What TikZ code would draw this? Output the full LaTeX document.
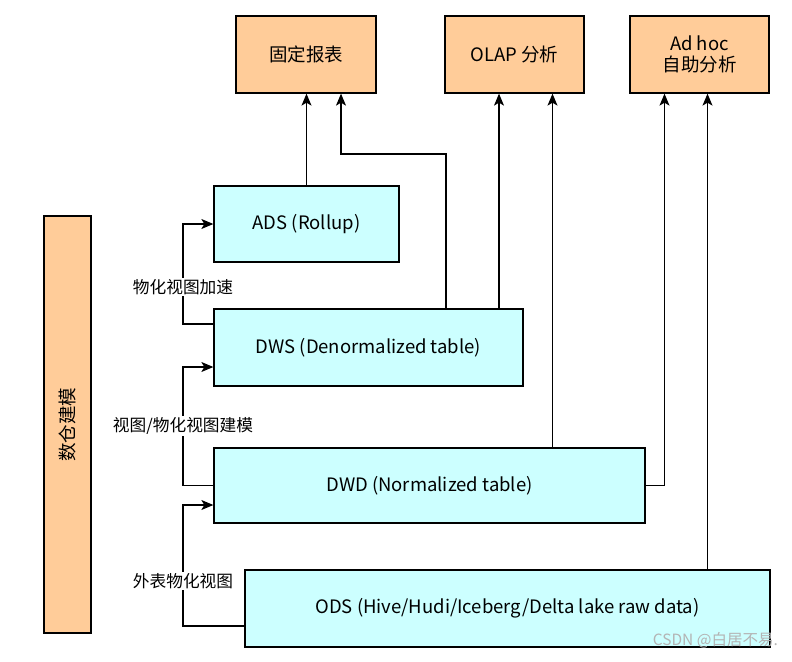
\documentclass[tikz,border=0pt]{standalone}
\usepackage{fontspec}
\setmainfont{Noto Sans CJK SC}
\usetikzlibrary{arrows.meta}
\definecolor{orangefill}{HTML}{FFCC99}
\definecolor{cyanfill}{HTML}{CCFFFF}
\definecolor{wmgray}{HTML}{B4B4B4}
\begin{document}
\begin{tikzpicture}[x=1pt,y=-1pt,
  box/.style={draw=black,line width=1.3pt,inner sep=0pt,align=center,font=\fontsize{18.5}{22}\selectfont},
  appbox/.style={box,fill=orangefill,minimum height=77pt},
  layerbox/.style={box,fill=cyanfill},
  conn/.style={draw=black,line width=1.2pt},
  arr/.style={conn,-{Stealth[length=12pt,width=10pt,inset=3pt]}},
  lbl/.style={fill=white,inner sep=1pt,font=\fontsize{16.7}{20}\selectfont}]
\useasboundingbox (0,0) rectangle (792,661);
\fill[white] (0,0) rectangle (792,661);
% application boxes
\node[appbox,minimum width=140pt] (rep) at (306,54.5) {固定报表};
\node[appbox,minimum width=139pt] (olap) at (514.5,54.5) {OLAP 分析};
\node[appbox,minimum width=139pt] (adhoc) at (699.5,54.5) {Ad hoc\\[-1pt]自助分析};
% layers
\node[layerbox,minimum width=185pt,minimum height=76pt] (ads) at (306.5,224) {ADS (Rollup)};
\node[layerbox,minimum width=309pt,minimum height=77pt] (dws) at (368.5,347.5) {DWS (Denormalized table)};
\node[layerbox,minimum width=431pt,minimum height=75pt] (dwd) at (429.5,485.5) {DWD (Normalized table)};
\node[layerbox,minimum width=525pt,minimum height=77pt] (ods) at (507.5,608.5) {ODS (Hive/Hudi/Iceberg/Delta lake raw data)};
% side box
\node[box,fill=orangefill,minimum width=47pt,minimum height=417pt] (side) at (67.5,424.5) {};
\node[rotate=90,font=\fontsize{18.5}{22}\selectfont] (sidetxt) at (side.center) {数仓建模};
% upward connectors
\draw[arr] (ads.north) -- (ads.north |- rep.south);
\draw[arr] (446,0 |- dws.north) |- (341,154) -- (341,0 |- rep.south);
\draw[arr] (499,0 |- dws.north) -- (499,0 |- olap.south);
\draw[arr] (552.5,0 |- dwd.north) -- (552.5,0 |- olap.south);
\draw[arr] (dwd.east) -| (664.5,0 |- adhoc.south);
\draw[arr] (707.5,0 |- ods.north) -- (707.5,0 |- adhoc.south);
% left-side connectors
\draw[arr] (dws.west |- 0,324) -- (183,324) |- (ads.west);
\draw[arr] (dwd.west) -- (183,485.5) |- (dws.west |- 0,367);
\draw[arr] (ods.west |- 0,626) -- (183,626) |- (dwd.west |- 0,505);
% labels
\node[lbl] (l1) at (183,287) {物化视图加速};
\node[lbl] (l2) at (183,426) {视图/物化视图建模};
\node[lbl] (l3) at (183,581) {外表物化视图};
% watermark
\node[text=wmgray,font=\fontsize{15.5}{17}\selectfont,inner sep=0pt,anchor=east] (wm) at (778,640) {CSDN @白居不易.};
\end{tikzpicture}
\end{document}
